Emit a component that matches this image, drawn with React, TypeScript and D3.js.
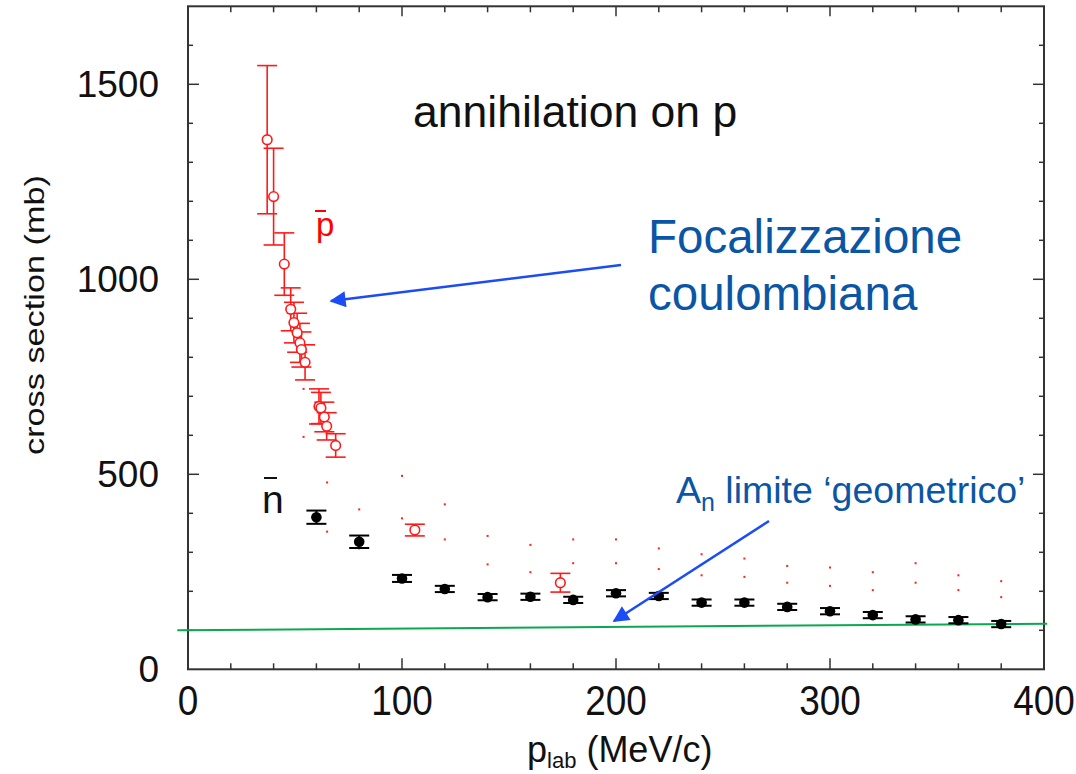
import React from "react";
import * as d3 from "d3";

// antiproton annihilation cross section (open red circles, with error)
const pbarX = [37, 40, 45, 48, 49.5, 51, 52.3, 53, 54.7, 61.2, 62.1, 63.7, 64.8, 69, 106, 174];
const pbarY = [1358, 1212, 1039, 923, 889, 863, 837, 820, 787, 674, 670, 647, 623, 574, 357, 222];
const pbarErr = [190, 124, 80, 55, 52, 50, 50, 45, 45, 45, 40, 38, 35, 30, 15, 24];

// antineutron annihilation cross section (filled black circles, with error)
const nbarX = [60, 80, 100, 120, 140, 160, 180, 200, 220, 240, 260, 280, 300, 320, 340, 360, 380];
const nbarY = [390, 327, 233, 206, 185, 186, 178, 195, 188, 171, 171, 160, 149, 139, 128, 126, 116];
const nbarErr = [17, 16, 9, 8, 8, 8, 8, 8, 8, 8, 8, 8, 8, 8, 8, 8, 8];

// dotted band: upper and lower edge points
const bandX = [54, 65, 80, 100, 120, 140, 160, 180, 200, 220, 240, 260, 280, 300, 320, 340, 360, 380];
const bandHi = [719, 479, 410, 496, 423, 342, 319, 333, 333, 310, 295, 284, 265, 261, 249, 272, 241, 226];
const bandLo = [596, 353, 310, 387, 333, 269, 249, 272, 272, 257, 241, 237, 222, 214, 203, 222, 203, 185];

// geometric limit line
const geoX = [-5, 401.5];
const geoY = [100, 117];

const xTickLabels = [0, 100, 200, 300, 400];
const yTickLabels = [0, 500, 1000, 1500];

const FONT = "'Liberation Sans', Arial, sans-serif";

export default function App() {
  const W = 1076;
  const H = 774;
  const x = d3.scaleLinear().domain([0, 400]).range([188, 1044]);
  const y = d3.scaleLinear().domain([0, 1700]).range([669.3, 6.3]);
  const [x0, x1] = x.range();
  const [y0, y1] = y.range();

  const xMinor = d3.range(0, 401, 20);
  const yMinor = d3.range(0, 1701, 100);
  const frame = "#333";

  const geoLine = d3.line<number>()
    .x((_, i) => x(geoX[i]))
    .y((_, i) => y(geoY[i]));

  const arrowBlue = "#1b4cf5";
  const textBlue = "#0b56a4";

  return (
    <svg
      width={W}
      height={H}
      style={{ position: "absolute", left: 0, top: 0, background: "#fff" }}
      fontFamily={FONT}
    >
      <defs>
        <marker id="ah" viewBox="0 0 10 10" refX="9" refY="5" markerWidth="7" markerHeight="6.5"
          markerUnits="strokeWidth" orient="auto">
          <path d="M0,0 L10,5 L0,10 z" fill={arrowBlue} />
        </marker>
      </defs>

      {/* frame */}
      <rect x={x0} y={y1} width={x1 - x0} height={y0 - y1} fill="none" stroke={frame} strokeWidth={2} />

      {/* x ticks, bottom and top */}
      {xMinor.map((v) => {
        const major = v % 100 === 0;
        if (v === 0 || v === 400) return null;
        return (
          <g key={"xt" + v} stroke={frame} strokeWidth={1.5}>
            <line x1={x(v)} x2={x(v)} y1={y0} y2={y0 - (major ? 11 : 6)} />
            <line x1={x(v)} x2={x(v)} y1={y1} y2={y1 + (major ? 10 : 6)} />
          </g>
        );
      })}
      {/* y ticks, left and right */}
      {yMinor.map((v) => {
        const major = v % 500 === 0;
        if (v === 0 || v === 1700) return null;
        return (
          <g key={"yt" + v} stroke={frame} strokeWidth={1.5}>
            <line x1={x0} x2={x0 + (major ? 11 : 5)} y1={y(v)} y2={y(v)} />
            <line x1={x1} x2={x1 - (major ? 11 : 5)} y1={y(v)} y2={y(v)} />
          </g>
        );
      })}

      {/* tick labels */}
      {xTickLabels.map((v) => (
        <text key={"xl" + v} transform={`translate(${x(v)},715) scale(0.88,1)`} textAnchor="middle"
          fontSize={42} fill="#111">{v}</text>
      ))}
      {yTickLabels.map((v) => (
        <text key={"yl" + v} x={159} y={y(v) + 13} textAnchor="end" fontSize={37} fill="#111">{v}</text>
      ))}

      {/* axis titles */}
      <text transform="translate(44,315) rotate(-90)" textAnchor="middle" fontSize={28} fill="#111"
        textLength={280} lengthAdjust="spacingAndGlyphs">cross section (mb)</text>
      <text x={527} y={762} fontSize={36} fill="#111">
        p<tspan fontSize={22} dy={6}>lab</tspan><tspan dy={-6}> (MeV/c)</tspan>
      </text>

      {/* geometric limit */}
      <path d={geoLine(geoX) || ""} stroke="#0aa84f" strokeWidth={2} fill="none" />

      {/* dotted band */}
      {bandX.map((v, i) => (
        <g key={"b" + i} fill="#ff2020">
          <rect x={x(v) - 1} y={y(bandHi[i]) - 1} width={2} height={2} />
          <rect x={x(v) - 1} y={y(bandLo[i]) - 1} width={2} height={2} />
        </g>
      ))}

      {/* antineutron data */}
      {nbarX.map((v, i) => {
        const cx = x(v);
        const top = y(nbarY[i] + nbarErr[i]);
        const bot = y(nbarY[i] - nbarErr[i]);
        return (
          <g key={"n" + i} stroke="#000" strokeWidth={2}>
            <line x1={cx} x2={cx} y1={top} y2={bot} />
            <line x1={cx - 10} x2={cx + 10} y1={top} y2={top} />
            <line x1={cx - 10} x2={cx + 10} y1={bot} y2={bot} />
            <circle cx={cx} cy={y(nbarY[i])} r={5.3} fill="#000" stroke="none" />
          </g>
        );
      })}

      {/* antiproton data */}
      {pbarX.map((v, i) => {
        const cx = x(v);
        const top = y(pbarY[i] + pbarErr[i]);
        const bot = y(pbarY[i] - pbarErr[i]);
        return (
          <g key={"p" + i} stroke="#ff1a1a" strokeWidth={1.6}>
            <line x1={cx} x2={cx} y1={top} y2={bot} />
            <line x1={cx - 10} x2={cx + 10} y1={top} y2={top} />
            <line x1={cx - 10} x2={cx + 10} y1={bot} y2={bot} />
          </g>
        );
      })}
      {pbarX.map((v, i) => (
        <circle key={"pc" + i} cx={x(v)} cy={y(pbarY[i])} r={4.8} fill="#fff" stroke="#ff1a1a" strokeWidth={1.6} />
      ))}

      {/* annotations */}
      <text x={413} y={127} fontSize={44.5} fill="#111">annihilation on p</text>

      <text x={316} y={236} fontSize={33} fill="#ff0000">p</text>
      <line x1={315} x2={326} y1={211} y2={211} stroke="#ff0000" strokeWidth={2} />

      <text x={262} y={513} fontSize={39} fill="#111">n</text>
      <line x1={264} x2={277} y1={478} y2={478} stroke="#111" strokeWidth={2} />

      <text x={648} y={253} fontSize={47.5} fill={textBlue}>Focalizzazione</text>
      <text x={648} y={310} fontSize={47.5} fill={textBlue}>coulombiana</text>
      <line x1={621} y1={265} x2={331} y2={301} stroke={arrowBlue} strokeWidth={2.5} markerEnd="url(#ah)" />

      <text x={676} y={503} fontSize={37.5} fill={textBlue}>
        A<tspan fontSize={25} dy={8}>n</tspan><tspan dy={-8}> limite ‘geometrico’</tspan>
      </text>
      <line x1={769} y1={521} x2={614} y2={621} stroke={arrowBlue} strokeWidth={2.5} markerEnd="url(#ah)" />
    </svg>
  );
}
